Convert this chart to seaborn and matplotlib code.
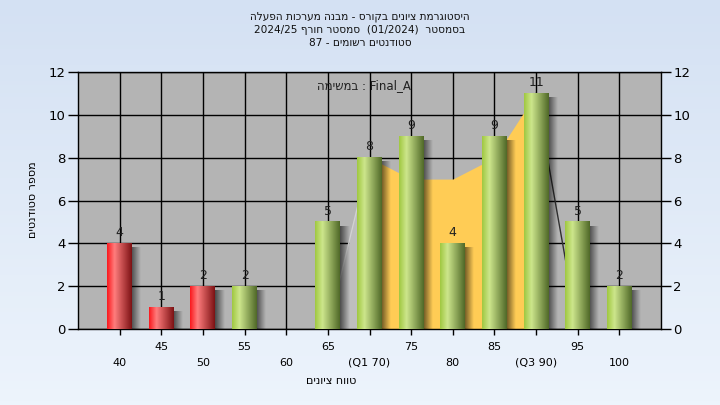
import re
import numpy as np
import pandas as pd
import matplotlib
matplotlib.use("Agg")
import matplotlib.pyplot as plt
import seaborn as sns

# ---- data ----
grades = ['40', '45', '50', '55', '60', '65', '70', '75', '80', '85', '90', '95', '100']
tick_labels = ['40', '45', '50', '55', '60', '65', '(Q1 70)', '75', '80', '85', '(Q3 90)', '95', '100']
counts = [4, 1, 2, 2, 0, 5, 8, 9, 4, 9, 11, 5, 2]
failing = ['40', '45', '50']

# outline of the yellow inter-quartile band
band_grades = ['65', '70', '75', '80', '85', '90', '95']
band_values = [0, 8, 7, 7, 8, 11, 0]

title_lines = ['היסטוגרמת ציונים בקורס - מבנה מערכות הפעלה',
               'בסמסטר  (01/2024)  סמסטר חורף 2024/25',
               'סטודנטים רשומים - 87']
legend_text = 'Final_A : במשימה'
x_title = 'טווח ציונים'
y_title = 'מספר סטודנטים'

LTR = r'[A-Za-z0-9_]+(?:[/.][A-Za-z0-9_]+)*'
MIRROR = str.maketrans('()', ')(')


def rtl(s):
    # very small bidi: reverse the hebrew runs, keep numbers/latin as they are
    parts = re.split('(' + LTR + ')', s)
    out = []
    for p in reversed(parts):
        if re.fullmatch(LTR, p):
            out.append(p)
        else:
            out.append(p[::-1].translate(MIRROR))
    return ''.join(out)


def gradient(stops, n=64):
    t = np.linspace(0, 1, n)
    pos = [s[0] for s in stops]
    rgb = [np.interp(t, pos, [s[1][c] / 255 for s in stops]) for c in range(3)]
    return np.dstack(rgb)


red_grad = gradient([(0, (250, 25, 30)), (0.3, (255, 125, 125)), (1, (125, 18, 20))])
green_grad = gradient([(0, (160, 200, 65)), (0.3, (205, 230, 140)), (1, (80, 105, 40))])

plt.rcParams['font.family'] = ['DejaVu Sans']

fig = plt.figure(figsize=(7.2, 4.05), dpi=100)

# light blue figure background
bg = fig.add_axes([0, 0, 1, 1], zorder=-10)
top = np.array([212, 225, 243]) / 255
bot = np.array([237, 244, 252]) / 255
bg.imshow(np.linspace(top, bot, 100)[:, None, :], aspect='auto', extent=[0, 1, 0, 1])
bg.axis('off')

ax = fig.add_axes([78 / 720, 1 - 329 / 405, 583 / 720, 257 / 405])
ax.set_facecolor('#b4b4b4')

df = pd.DataFrame({'grade': grades, 'count': counts})
palette = {g: ('#e02020' if g in failing else '#9cc850') for g in grades}
sns.barplot(data=df, x='grade', y='count', hue='grade', palette=palette,
            legend=False, width=0.6, ax=ax, zorder=3)

# band behind the bars
bx = [grades.index(g) for g in band_grades]
ax.fill_between(bx[:2], band_values[:2], color='#bebebe', lw=0, zorder=1)
ax.fill_between(bx[1:-1], band_values[1:-1], color='#ffcc55', lw=0, zorder=1.2)
ax.plot(bx[:2], band_values[:2], color='#d2d2d2', lw=1, zorder=1.3)
ax.plot(bx[-2:], band_values[-2:], color='#303030', lw=1, zorder=1.3)

# cylinder look + soft shadow
for g, p in zip(grades, list(ax.patches)):
    h = int(round(p.get_height()))
    x0 = p.get_x()
    x1 = x0 + p.get_width()
    p.set_visible(False)
    if h <= 0:
        continue
    shade = np.zeros((1, 32, 4))
    shade[..., 3] = np.linspace(0.6, 0.0, 32)
    ax.imshow(shade, extent=[x1 - 0.02, x1 + 0.2, -0.2, h - 0.2], aspect='auto', zorder=2.5,
              interpolation='bilinear')
    ax.imshow(red_grad if g in failing else green_grad, extent=[x0, x1, 0, h], aspect='auto',
              zorder=3, interpolation='bilinear')
    ax.text(grades.index(g), h + 0.2, str(h), ha='center', va='bottom', fontsize=9,
            color='#202020', zorder=5)

ax.set_xlim(-1, 13)
ax.set_ylim(0, 12)
ax.set_yticks(range(0, 13, 2))
ax.set_xticks(range(len(grades)))
ax.set_xticklabels([(t + '\n') if i % 2 else ('\n' + t) for i, t in enumerate(tick_labels)],
                   fontsize=8, linespacing=1.75)
ax.tick_params(axis='x', length=4, width=1, pad=5, colors='black')
ax.tick_params(axis='y', left=True, right=True, labelleft=True, labelright=True,
               length=7, width=1, labelsize=9.5, pad=2, colors='black')
ax.grid(True, color='black', lw=1)
ax.set_axisbelow(True)
for s in ax.spines.values():
    s.set_color('black')
    s.set_linewidth(1)
ax.set_xlabel('')
ax.set_ylabel('')

ax.text(0.571, 0.949, rtl(legend_text), transform=ax.transAxes, ha='right', va='center',
        fontsize=8.5, color='#202020', zorder=6)

for i, line in enumerate(title_lines):
    fig.text(0.5, 1 - (17 + 13 * i) / 405, rtl(line), ha='center', va='center', fontsize=7.6,
             color='#101010')
fig.text(331 / 720, 1 - 381 / 405, rtl(x_title), ha='center', va='center', fontsize=8)
fig.text(33 / 720, 1 - 200 / 405, rtl(y_title), ha='center', va='center', fontsize=8, rotation=90)

fig.savefig('out.png', dpi=100)
